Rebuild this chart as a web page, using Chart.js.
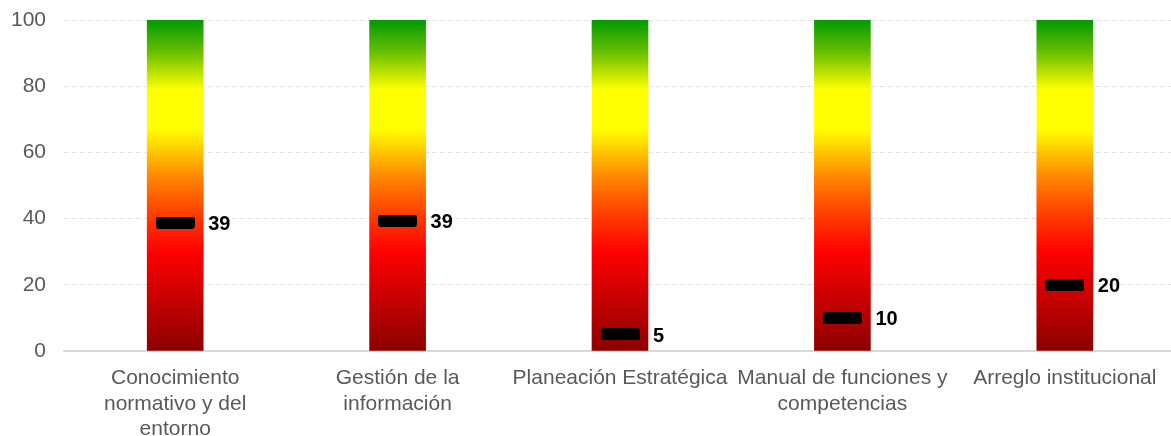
<!DOCTYPE html>
<html>
<head>
<meta charset="utf-8">
<script src="https://cdn.jsdelivr.net/npm/chart.js@4.4.1/dist/chart.umd.min.js"></script>
<style>
  html, body { margin: 0; padding: 0; background: #ffffff; overflow: hidden; }
  #wrap { width: 1176px; height: 436px; }
</style>
</head>
<body>
<div id="wrap"><canvas id="c" width="1176" height="436"></canvas></div>
<script>
// ---- data ----
const categories = [
  ["Conocimiento", "normativo y del", "entorno"],
  ["Gestión de la", "información"],
  "Planeación Estratégica",
  ["Manual de funciones y", "competencias"],
  "Arreglo institucional"
];
const scaleMax = [100, 100, 100, 100, 100];
const scores = [38.8, 39.4, 5, 10, 20];
const scoreLabels = ["39", "39", "5", "10", "20"];
const yTickValues = [0, 20, 40, 60, 80, 100];

// ---- styles ----
const FONT = "'Liberation Sans', Arial, sans-serif";
const gradientStops = [
  [0.00, '#8b0000'],
  [0.30, '#ff0000'],
  [0.43, '#ff4800'],
  [0.53, '#ff8a00'],
  [0.67, '#ffff00'],
  [0.79, '#ffff00'],
  [0.90, '#6cc000'],
  [1.00, '#009a00']
];

function makeMarker() {
  const w = 39, h = 12, r = 3;
  const cv = document.createElement('canvas');
  cv.width = w; cv.height = h;
  const g = cv.getContext('2d');
  g.fillStyle = '#000000';
  g.beginPath();
  g.moveTo(r, 0);
  g.lineTo(w - r, 0);
  g.quadraticCurveTo(w, 0, w, r);
  g.lineTo(w, h - r);
  g.quadraticCurveTo(w, h, w - r, h);
  g.lineTo(r, h);
  g.quadraticCurveTo(0, h, 0, h - r);
  g.lineTo(0, r);
  g.quadraticCurveTo(0, 0, r, 0);
  g.closePath();
  g.fill();
  return cv;
}
const markerImg = makeMarker();

function barGradient(ctx) {
  const chart = ctx.chart;
  const y = chart.scales.y;
  if (!y || !chart.chartArea) return '#ff0000';
  const g = chart.ctx.createLinearGradient(0, y.getPixelForValue(0), 0, y.getPixelForValue(100));
  gradientStops.forEach(s => g.addColorStop(s[0], s[1]));
  return g;
}

const valueLabels = {
  id: 'valueLabels',
  afterDatasetsDraw(chart) {
    const meta = chart.getDatasetMeta(0);
    const ctx = chart.ctx;
    ctx.save();
    ctx.font = "bold 20px " + FONT;
    ctx.fillStyle = '#000000';
    ctx.textAlign = 'left';
    ctx.textBaseline = 'middle';
    meta.data.forEach((pt, i) => {
      ctx.fillText(scoreLabels[i], pt.x + 33, pt.y + 2);
    });
    ctx.restore();
  }
};

new Chart(document.getElementById('c'), {
  type: 'bar',
  data: {
    labels: categories,
    datasets: [
      {
        type: 'line',
        data: scores,
        showLine: false,
        pointStyle: markerImg,
        pointRadius: 10,
        pointHoverRadius: 10,
        order: 0
      },
      {
        type: 'bar',
        data: scaleMax,
        backgroundColor: barGradient,
        borderWidth: 0,
        barThickness: 56,
        order: 1
      }
    ]
  },
  options: {
    responsive: false,
    animation: false,
    events: [],
    layout: { autoPadding: false, padding: { top: 20, left: 10, right: 0, bottom: 0 } },
    plugins: { legend: { display: false }, tooltip: { enabled: false } },
    scales: {
      x: {
        offset: true,
        grid: { display: false, drawTicks: false },
        border: { display: true, color: '#d9d9d9', width: 2 },
        ticks: {
          color: '#595959',
          font: { family: FONT, size: 21, lineHeight: 1.2 },
          padding: 15,
          maxRotation: 0,
          minRotation: 0,
          autoSkip: false
        },
        afterFit(scale) {
          scale.paddingLeft = 0;
          scale.paddingRight = 0;
          scale.height = 85;
        }
      },
      y: {
        min: 0,
        max: 100,
        afterBuildTicks(scale) { scale.ticks = yTickValues.map(v => ({ value: v })); },
        grid: { color: '#e3e3e3', lineWidth: 1, drawTicks: false },
        border: { display: false, dash: [5, 3] },
        ticks: {
          color: '#595959',
          font: { family: FONT, size: 21 },
          padding: 18
        },
        afterFit(scale) {
          scale.paddingTop = 0;
          scale.paddingBottom = 0;
          scale.width = 54;
        }
      }
    }
  },
  plugins: [valueLabels]
});
</script>
</body>
</html>
